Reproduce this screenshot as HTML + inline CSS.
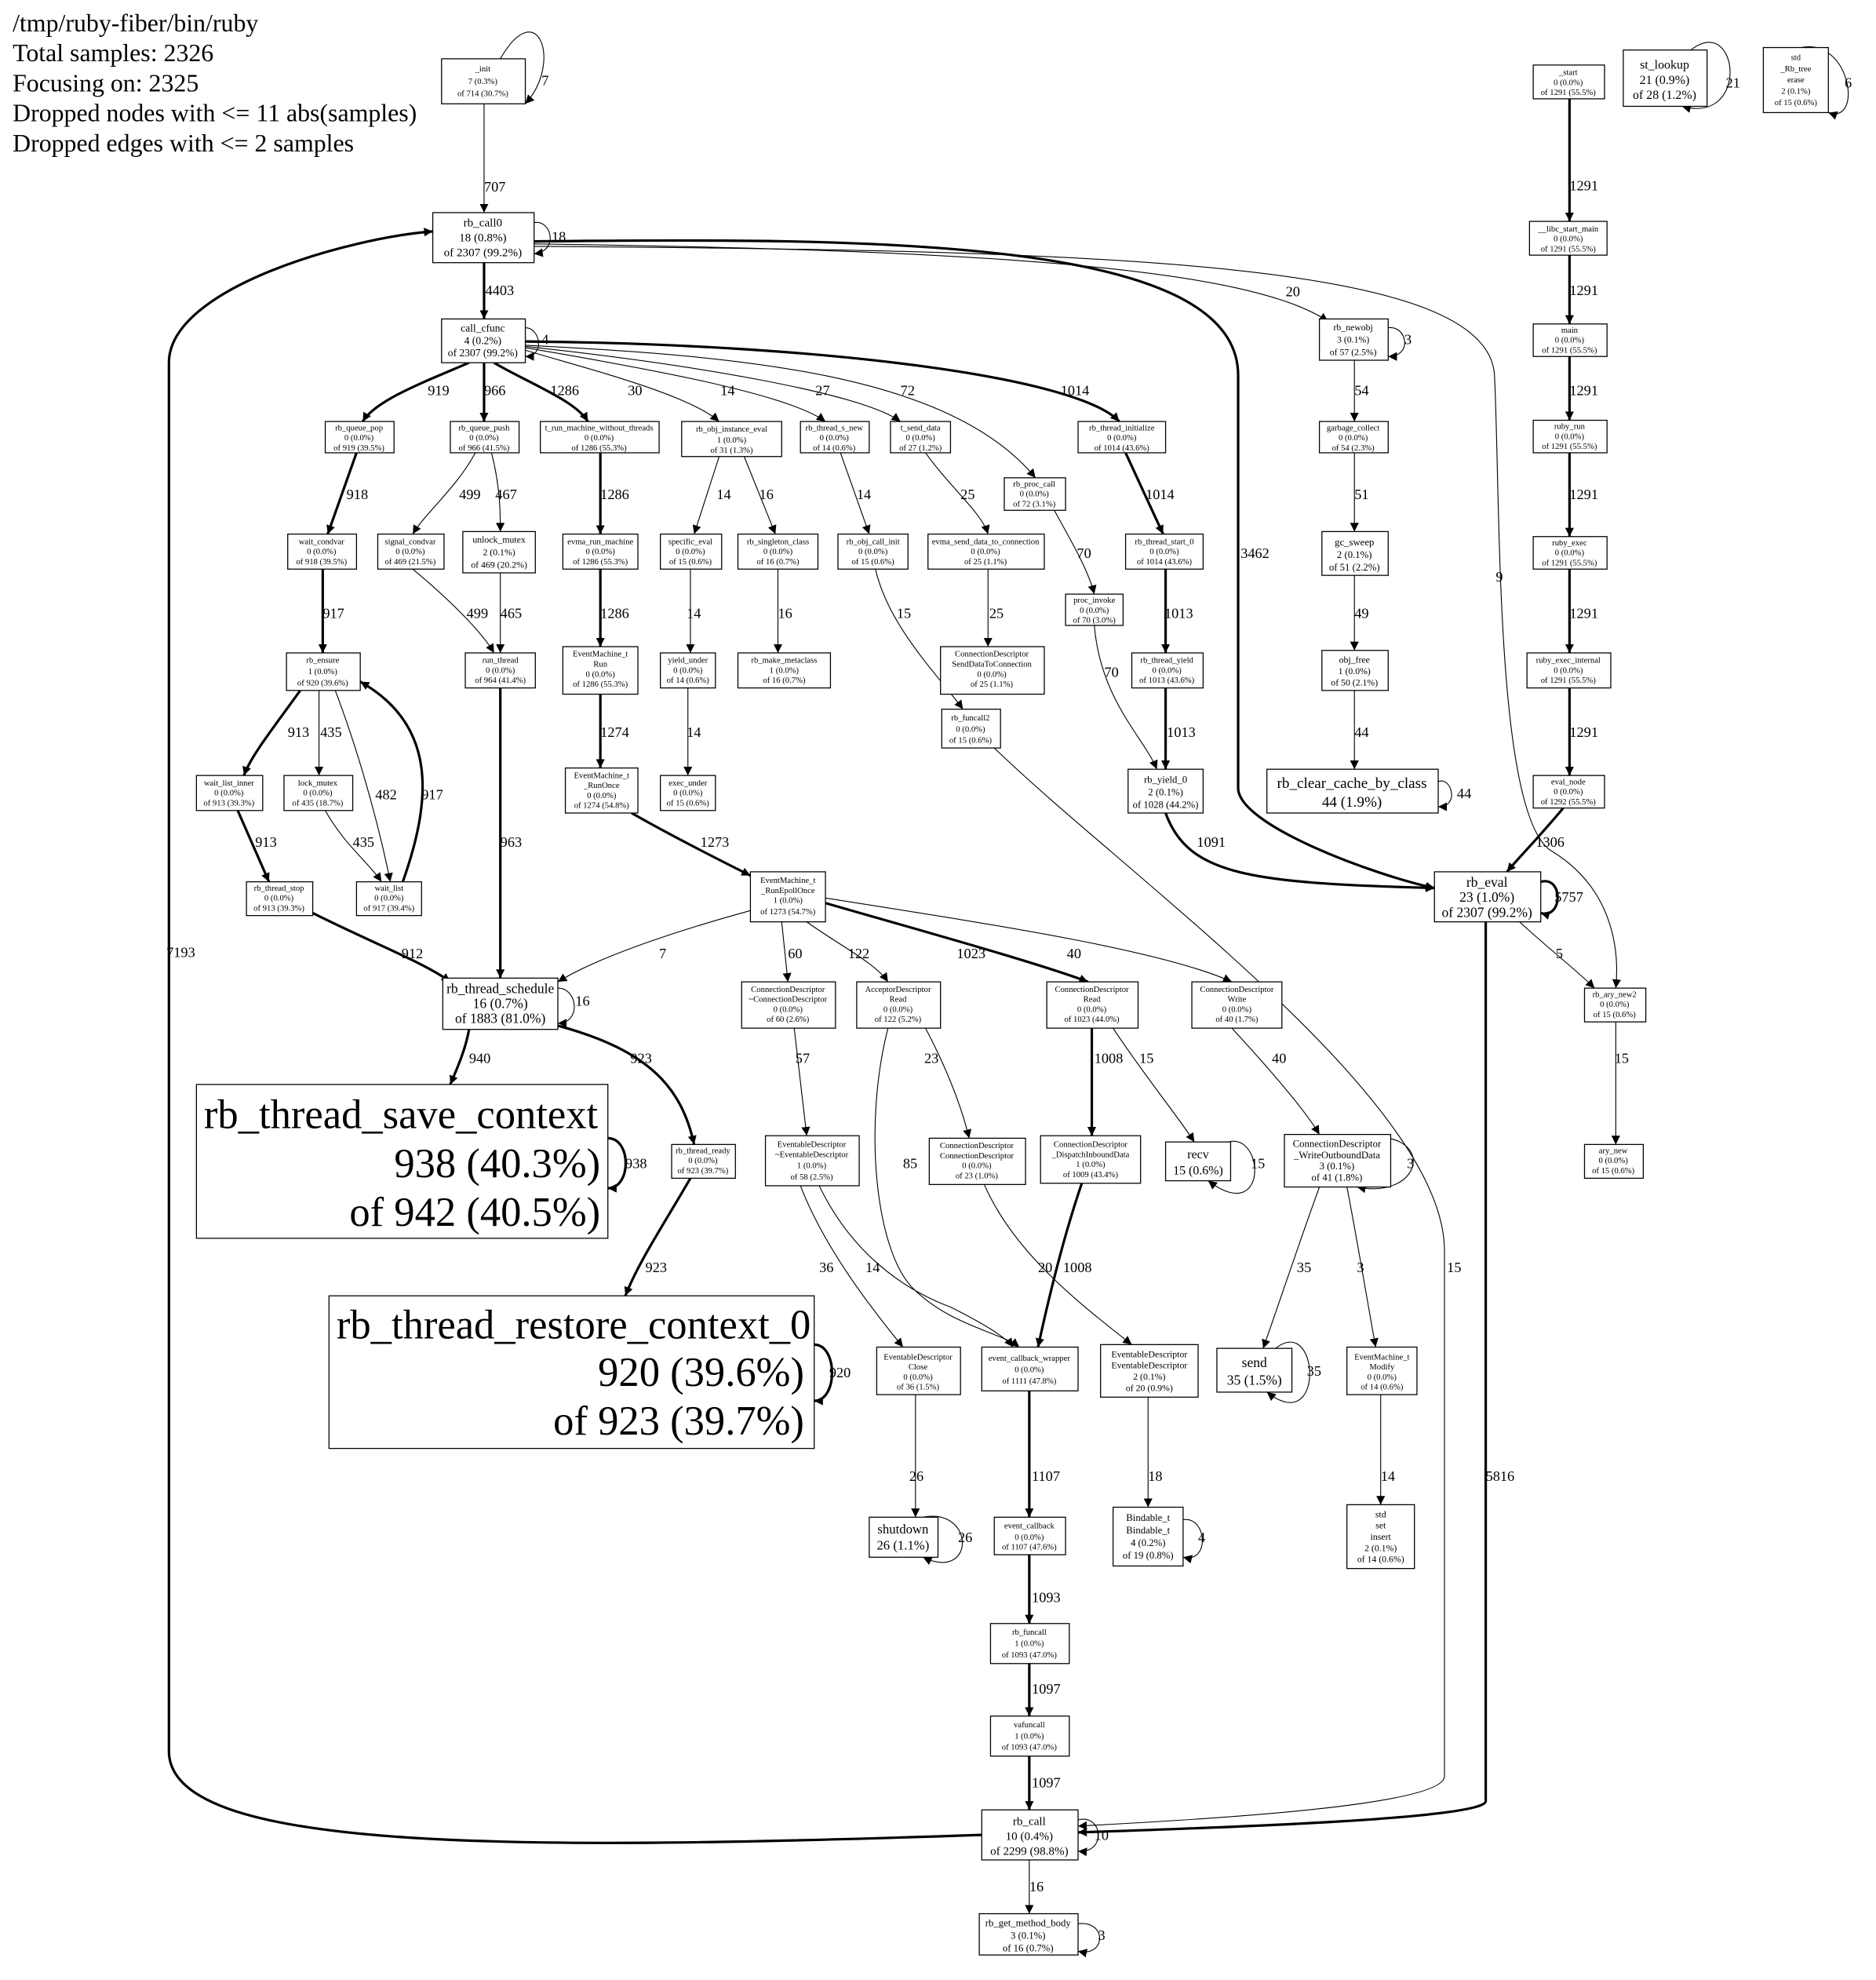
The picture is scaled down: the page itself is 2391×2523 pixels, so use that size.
<!DOCTYPE html>
<html><head><meta charset="utf-8"><style>
html,body{margin:0;padding:0;background:#fff}
svg{display:block}
text{font-family:"Liberation Serif",serif;fill:#000}
.n rect{fill:#fff;stroke:#000;stroke-width:0.8}
.s{font-size:6.7px;text-anchor:middle}
.m{font-size:10px;text-anchor:middle}
.l{font-size:11.5px}
.e{fill:none;stroke:#000;stroke-width:0.7}
.t{fill:none;stroke:#000;stroke-width:2}
</style></head><body>
<svg width="2391" height="2523" viewBox="0 0 1500 1583" xmlns="http://www.w3.org/2000/svg">
<defs>
<marker id="a" viewBox="0 0 10 10" refX="10" refY="5" markerWidth="7" markerHeight="7" markerUnits="userSpaceOnUse" orient="auto"><path d="M0,0L10,5L0,10z" fill="#000"/></marker>
</defs>
<rect width="1500" height="1583" fill="#fff"/>
<g style="font-size:20px">
<text x="10" y="25">/tmp/ruby-fiber/bin/ruby</text>
<text x="10" y="49">Total samples: 2326</text>
<text x="10" y="73">Focusing on: 2325</text>
<text x="10" y="97">Dropped nodes with &lt;= 11 abs(samples)</text>
<text x="10" y="121">Dropped edges with &lt;= 2 samples</text>
</g>

<!-- EDGES -->
<g marker-end="url(#a)">
<path class="e" d="M387,83V170"/>
<path class="t" d="M387,210V255"/>
<path class="t" d="M427,193C700,190 990,190 990,300V630C990,660 1100,700 1147,710"/>
<path class="e" d="M427,195C800,200 1000,215 1062,257"/>
<path class="e" d="M427,197C900,200 1190,210 1195,300C1200,400 1195,650 1240,680C1290,710 1295,760 1292,790"/>
<path class="t" d="M785,1467C400,1480 135,1480 135,1400V290C135,230 280,190 346,185"/>
<path class="t" d="M375,290C340,305 300,320 290,337"/>
<path class="t" d="M387,290V337"/>
<path class="t" d="M395,290C420,305 460,320 470,337"/>
<path class="e" d="M420,280C470,295 550,315 575,337"/>
<path class="e" d="M420,278C520,295 630,315 660,337"/>
<path class="e" d="M420,277C560,292 690,315 720,337"/>
<path class="e" d="M420,276C600,285 760,300 828,382"/>
<path class="t" d="M420,273C650,275 860,300 895,337"/>
<path class="t" d="M285,362L262,427"/>
<path class="e" d="M380,362C365,390 340,410 330,427"/>
<path class="e" d="M393,362C400,390 400,410 400,425"/>
<path class="t" d="M480,362V427"/>
<path class="e" d="M575,365L555,427"/>
<path class="e" d="M595,365L620,427"/>
<path class="e" d="M672,362L695,427"/>
<path class="e" d="M740,362C760,390 785,410 790,427"/>
<path class="e" d="M843,408C855,430 870,455 875,475"/>
<path class="t" d="M900,362L930,427"/>
<path class="e" d="M1083,288V337"/>
<path class="e" d="M1083,362V425"/>
<path class="e" d="M1083,460V520"/>
<path class="e" d="M1083,552V615"/>
<path class="t" d="M1255,79V177"/>
<path class="t" d="M1255,204V259"/>
<path class="t" d="M1255,285V336"/>
<path class="t" d="M1255,362V429"/>
<path class="t" d="M1255,455V522"/>
<path class="t" d="M1255,550V620"/>
<path class="t" d="M1250,646C1230,670 1215,685 1205,697"/>
<path class="t" d="M258,455V522"/>
<path class="e" d="M330,455C360,480 385,505 395,522"/>
<path class="e" d="M400,458V522"/>
<path class="t" d="M480,455V517"/>
<path class="e" d="M552,455V522"/>
<path class="e" d="M622,455V522"/>
<path class="e" d="M700,455C710,500 750,540 770,567"/>
<path class="e" d="M790,455V517"/>
<path class="e" d="M875,500C880,560 915,590 925,615"/>
<path class="t" d="M932,455V522"/>
<path class="t" d="M932,550V615"/>
<path class="t" d="M932,650C950,700 1000,706 1147,710"/>
<path class="e" d="M1215,737C1240,760 1260,775 1275,790"/>
<path class="t" d="M1188,737V1440C1188,1455 950,1462 862,1465"/>
<path class="e" d="M795,598C900,700 1155,880 1155,1000V1420C1155,1445 950,1455 862,1460"/>
<path class="t" d="M240,552C220,580 200,605 195,620"/>
<path class="e" d="M255,552V620"/>
<path class="e" d="M268,552C290,610 305,670 312,705"/>
<path class="t" d="M322,705C345,640 350,580 288,545"/>
<path class="t" d="M190,648L215,705"/>
<path class="e" d="M260,648C275,675 295,690 305,705"/>
<path class="t" d="M400,550V782"/>
<path class="t" d="M480,555V614"/>
<path class="e" d="M550,550V620"/>
<path class="t" d="M505,650C540,670 580,690 600,700"/>
<path class="t" d="M250,730C300,755 340,770 360,785"/>
<path class="e" d="M600,728C520,750 470,770 446,785"/>
<path class="e" d="M625,737L630,785"/>
<path class="e" d="M645,737C670,755 700,770 710,785"/>
<path class="t" d="M660,722C740,745 830,770 870,785"/>
<path class="e" d="M660,718C800,740 930,760 985,785"/>
<path class="t" d="M375,823C372,840 365,855 360,867"/>
<path class="t" d="M446,820C520,840 545,870 555,915"/>
<path class="t" d="M552,942C530,980 510,1010 500,1036"/>
<path class="e" d="M635,822C638,850 642,880 645,908"/>
<path class="e" d="M710,822C690,900 700,1000 730,1030C760,1060 800,1065 815,1077"/>
<path class="e" d="M740,822C760,860 770,890 775,910"/>
<path class="t" d="M873,822V908"/>
<path class="e" d="M890,822C915,860 940,890 955,913"/>
<path class="e" d="M985,822C1020,860 1045,890 1055,907"/>
<path class="e" d="M1292,817V915"/>
<path class="e" d="M640,948C660,1000 700,1050 722,1077"/>
<path class="e" d="M655,948C680,1000 720,1030 760,1045C790,1060 805,1070 810,1077"/>
<path class="e" d="M787,947C810,1000 860,1040 905,1075"/>
<path class="t" d="M865,946C850,990 838,1040 830,1077"/>
<path class="e" d="M1055,949C1040,990 1020,1050 1010,1078"/>
<path class="e" d="M1077,949C1085,990 1095,1050 1100,1077"/>
<path class="e" d="M732,1115V1213"/>
<path class="t" d="M823,1112V1213"/>
<path class="e" d="M918,1117V1205"/>
<path class="e" d="M1104,1115V1203"/>
<path class="t" d="M823,1243V1298"/>
<path class="t" d="M823,1330V1372"/>
<path class="t" d="M823,1404V1447"/>
<path class="e" d="M823,1487V1530"/>
<!-- self loops -->
<path class="e" d="M400,47C430,-5 450,50 420,83" />
<path class="e" d="M427,178C440,175 448,200 427,203"/>
<path class="e" d="M420,262C432,262 436,285 420,285"/>
<path class="e" d="M1110,262C1125,260 1130,285 1110,285"/>
<path class="e" d="M1352,40C1390,10 1400,100 1345,85"/>
<path class="e" d="M1440,38C1480,30 1490,100 1462,90"/>
<path class="e" d="M1150,625C1160,620 1168,645 1150,645"/>
<path class="t" d="M1232,705C1250,700 1250,735 1232,730"/>
<path class="e" d="M446,790C462,790 465,818 446,818"/>
<path class="t" d="M486,910C505,910 505,950 486,950"/>
<path class="t" d="M651,1075C670,1075 670,1120 651,1120"/>
<path class="e" d="M970,920C1010,885 1020,985 966,944"/>
<path class="e" d="M1085,910C1150,900 1140,960 1085,949"/>
<path class="e" d="M1020,1078C1055,1050 1060,1150 1013,1113"/>
<path class="e" d="M738,1213C780,1205 780,1265 738,1245"/>
<path class="e" d="M946,1215C965,1212 968,1250 946,1245"/>
<path class="e" d="M862,1455C882,1450 885,1482 862,1480"/>
<path class="e" d="M862,1538C885,1535 885,1565 862,1560"/>
</g>

<!-- EDGE LABELS -->
<g class="l">
<text x="387" y="153">707</text><text x="388" y="236">4403</text><text x="992" y="446">3462</text>
<text x="1028" y="237">20</text><text x="1196" y="465">9</text><text x="133" y="765">7193</text>
<text x="342" y="316">919</text><text x="387" y="316">966</text><text x="440" y="316">1286</text>
<text x="502" y="316">30</text><text x="576" y="316">14</text><text x="652" y="316">27</text>
<text x="720" y="316">72</text><text x="848" y="316">1014</text><text x="277" y="399">918</text>
<text x="367" y="399">499</text><text x="396" y="399">467</text><text x="480" y="399">1286</text>
<text x="573" y="399">14</text><text x="607" y="399">16</text><text x="685" y="399">14</text>
<text x="768" y="399">25</text><text x="861" y="446">70</text><text x="916" y="399">1014</text>
<text x="1083" y="316">54</text><text x="1083" y="399">51</text><text x="1083" y="494">49</text><text x="1083" y="589">44</text>
<text x="1255" y="152">1291</text><text x="1255" y="236">1291</text><text x="1255" y="316">1291</text>
<text x="1255" y="399">1291</text><text x="1255" y="494">1291</text><text x="1255" y="589">1291</text>
<text x="1228" y="677">1306</text><text x="258" y="494">917</text><text x="373" y="494">499</text>
<text x="400" y="494">465</text><text x="480" y="494">1286</text><text x="549" y="494">14</text>
<text x="622" y="494">16</text><text x="717" y="494">15</text><text x="791" y="494">25</text>
<text x="883" y="541">70</text><text x="931" y="494">1013</text><text x="933" y="589">1013</text>
<text x="957" y="677">1091</text><text x="1244" y="766">5</text><text x="1188" y="1184">5816</text>
<text x="1157" y="1017">15</text><text x="230" y="589">913</text><text x="256" y="589">435</text>
<text x="300" y="639">482</text><text x="337" y="639">917</text><text x="204" y="677">913</text>
<text x="282" y="677">435</text><text x="400" y="677">963</text><text x="480" y="589">1274</text>
<text x="549" y="589">14</text><text x="560" y="677">1273</text><text x="321" y="766">912</text>
<text x="527" y="766">7</text><text x="630" y="766">60</text><text x="678" y="766">122</text>
<text x="765" y="766">1023</text><text x="853" y="766">40</text><text x="460" y="804">16</text>
<text x="375" y="850">940</text><text x="504" y="850">923</text><text x="500" y="934">938</text>
<text x="516" y="1017">923</text><text x="663" y="1101">920</text><text x="636" y="850">57</text>
<text x="722" y="934">85</text><text x="739" y="850">23</text><text x="875" y="850">1008</text>
<text x="911" y="850">15</text><text x="1017" y="850">40</text><text x="1000" y="934">15</text>
<text x="1125" y="934">3</text><text x="1291" y="850">15</text><text x="655" y="1017">36</text>
<text x="692" y="1017">14</text><text x="830" y="1017">20</text><text x="850" y="1017">1008</text>
<text x="1037" y="1017">35</text><text x="1085" y="1017">3</text><text x="1045" y="1100">35</text>
<text x="727" y="1184">26</text><text x="825" y="1184">1107</text><text x="918" y="1184">18</text>
<text x="1104" y="1184">14</text><text x="766" y="1233">26</text><text x="958" y="1233">4</text>
<text x="825" y="1281">1093</text><text x="825" y="1354">1097</text><text x="825" y="1429">1097</text>
<text x="875" y="1471">10</text><text x="823" y="1512">16</text><text x="878" y="1551">3</text>
<text x="433" y="68">7</text><text x="441" y="193">18</text><text x="433" y="275">4</text>
<text x="1123" y="275">3</text><text x="1380" y="70">21</text><text x="1475" y="70">6</text>
<text x="1165" y="638">44</text><text x="1243" y="721">5757</text>
</g>

<!-- NODES -->
<g class="n">
<rect x="353" y="47" width="67" height="36"/><text class="s"><tspan x="386" y="57">_init</tspan><tspan x="386" y="67">7 (0.3%)</tspan><tspan x="386" y="77">of 714 (30.7%)</tspan></text>
<rect x="346" y="170" width="81" height="40"/><text class="m" style="font-size:9.5px"><tspan x="386" y="181">rb_call0</tspan><tspan x="386" y="193">18 (0.8%)</tspan><tspan x="386" y="205">of 2307 (99.2%)</tspan></text>
<rect x="353" y="255" width="67" height="35"/><text class="m" style="font-size:8.5px"><tspan x="386" y="265">call_cfunc</tspan><tspan x="386" y="275">4 (0.2%)</tspan><tspan x="386" y="285">of 2307 (99.2%)</tspan></text>
<rect x="260" y="337" width="55" height="25"/><text class="s"><tspan x="287" y="344">rb_queue_pop</tspan><tspan x="287" y="352">0 (0.0%)</tspan><tspan x="287" y="360">of 919 (39.5%)</tspan></text>
<rect x="360" y="337" width="55" height="25"/><text class="s"><tspan x="387" y="344">rb_queue_push</tspan><tspan x="387" y="352">0 (0.0%)</tspan><tspan x="387" y="360">of 966 (41.5%)</tspan></text>
<rect x="432" y="337" width="95" height="25"/><text class="s"><tspan x="479" y="344">t_run_machine_without_threads</tspan><tspan x="479" y="352">0 (0.0%)</tspan><tspan x="479" y="360">of 1286 (55.3%)</tspan></text>
<rect x="545" y="337" width="80" height="28"/><text class="s"><tspan x="585" y="345">rb_obj_instance_eval</tspan><tspan x="585" y="354">1 (0.0%)</tspan><tspan x="585" y="362">of 31 (1.3%)</tspan></text>
<rect x="640" y="337" width="55" height="25"/><text class="s"><tspan x="667" y="344">rb_thread_s_new</tspan><tspan x="667" y="352">0 (0.0%)</tspan><tspan x="667" y="360">of 14 (0.6%)</tspan></text>
<rect x="712" y="337" width="48" height="25"/><text class="s"><tspan x="736" y="344">t_send_data</tspan><tspan x="736" y="352">0 (0.0%)</tspan><tspan x="736" y="360">of 27 (1.2%)</tspan></text>
<rect x="803" y="382" width="49" height="26"/><text class="s"><tspan x="827" y="389">rb_proc_call</tspan><tspan x="827" y="397">0 (0.0%)</tspan><tspan x="827" y="405">of 72 (3.1%)</tspan></text>
<rect x="862" y="337" width="70" height="25"/><text class="s"><tspan x="897" y="344">rb_thread_initialize</tspan><tspan x="897" y="352">0 (0.0%)</tspan><tspan x="897" y="360">of 1014 (43.6%)</tspan></text>
<rect x="1055" y="255" width="55" height="33"/><text class="s" style="font-size:7.4px"><tspan x="1082" y="264">rb_newobj</tspan><tspan x="1082" y="274">3 (0.1%)</tspan><tspan x="1082" y="284">of 57 (2.5%)</tspan></text>
<rect x="1226" y="52" width="57" height="27"/><text class="s"><tspan x="1254" y="60">_start</tspan><tspan x="1254" y="68">0 (0.0%)</tspan><tspan x="1254" y="76">of 1291 (55.5%)</tspan></text>
<rect x="1298" y="40" width="67" height="45"/><text class="m"><tspan x="1331" y="55">st_lookup</tspan><tspan x="1331" y="67">21 (0.9%)</tspan><tspan x="1331" y="79">of 28 (1.2%)</tspan></text>
<rect x="1410" y="38" width="52" height="52"/><text class="s"><tspan x="1436" y="48">std</tspan><tspan x="1436" y="57">_Rb_tree</tspan><tspan x="1436" y="66">erase</tspan><tspan x="1436" y="75">2 (0.1%)</tspan><tspan x="1436" y="84">of 15 (0.6%)</tspan></text>
<rect x="1223" y="177" width="62" height="27"/><text class="s"><tspan x="1254" y="185">__libc_start_main</tspan><tspan x="1254" y="193">0 (0.0%)</tspan><tspan x="1254" y="201">of 1291 (55.5%)</tspan></text>
<rect x="1226" y="259" width="59" height="26"/><text class="s"><tspan x="1255" y="266">main</tspan><tspan x="1255" y="274">0 (0.0%)</tspan><tspan x="1255" y="282">of 1291 (55.5%)</tspan></text>
<rect x="1226" y="336" width="59" height="26"/><text class="s"><tspan x="1255" y="343">ruby_run</tspan><tspan x="1255" y="351">0 (0.0%)</tspan><tspan x="1255" y="359">of 1291 (55.5%)</tspan></text>
<rect x="1226" y="429" width="59" height="26"/><text class="s"><tspan x="1255" y="436">ruby_exec</tspan><tspan x="1255" y="444">0 (0.0%)</tspan><tspan x="1255" y="452">of 1291 (55.5%)</tspan></text>
<rect x="1221" y="522" width="67" height="28"/><text class="s"><tspan x="1254" y="530">ruby_exec_internal</tspan><tspan x="1254" y="538">0 (0.0%)</tspan><tspan x="1254" y="546">of 1291 (55.5%)</tspan></text>
<rect x="1226" y="620" width="57" height="26"/><text class="s"><tspan x="1254" y="627">eval_node</tspan><tspan x="1254" y="635">0 (0.0%)</tspan><tspan x="1254" y="643">of 1292 (55.5%)</tspan></text>
<rect x="1055" y="337" width="55" height="25"/><text class="s"><tspan x="1082" y="344">garbage_collect</tspan><tspan x="1082" y="352">0 (0.0%)</tspan><tspan x="1082" y="360">of 54 (2.3%)</tspan></text>
<rect x="1057" y="425" width="53" height="35"/><text class="s" style="font-size:8px"><tspan x="1083" y="436">gc_sweep</tspan><tspan x="1083" y="446">2 (0.1%)</tspan><tspan x="1083" y="456">of 51 (2.2%)</tspan></text>
<rect x="1057" y="520" width="53" height="32"/><text class="s" style="font-size:7.4px"><tspan x="1083" y="530">obj_free</tspan><tspan x="1083" y="539">1 (0.0%)</tspan><tspan x="1083" y="548">of 50 (2.1%)</tspan></text>
<rect x="1013" y="615" width="137" height="35"/><text class="m" style="font-size:12px"><tspan x="1081" y="630">rb_clear_cache_by_class</tspan><tspan x="1081" y="645">44 (1.9%)</tspan></text>
<rect x="230" y="427" width="55" height="28"/><text class="s"><tspan x="257" y="435">wait_condvar</tspan><tspan x="257" y="443">0 (0.0%)</tspan><tspan x="257" y="451">of 918 (39.5%)</tspan></text>
<rect x="302" y="427" width="53" height="28"/><text class="s"><tspan x="328" y="435">signal_condvar</tspan><tspan x="328" y="443">0 (0.0%)</tspan><tspan x="328" y="451">of 469 (21.5%)</tspan></text>
<rect x="370" y="425" width="58" height="33"/><text class="s" style="font-size:7.4px"><tspan x="399" y="434">unlock_mutex</tspan><tspan x="399" y="444">2 (0.1%)</tspan><tspan x="399" y="454">of 469 (20.2%)</tspan></text>
<rect x="450" y="427" width="60" height="28"/><text class="s"><tspan x="480" y="435">evma_run_machine</tspan><tspan x="480" y="443">0 (0.0%)</tspan><tspan x="480" y="451">of 1286 (55.3%)</tspan></text>
<rect x="528" y="427" width="49" height="28"/><text class="s"><tspan x="552" y="435">specific_eval</tspan><tspan x="552" y="443">0 (0.0%)</tspan><tspan x="552" y="451">of 15 (0.6%)</tspan></text>
<rect x="590" y="427" width="64" height="28"/><text class="s"><tspan x="622" y="435">rb_singleton_class</tspan><tspan x="622" y="443">0 (0.0%)</tspan><tspan x="622" y="451">of 16 (0.7%)</tspan></text>
<rect x="670" y="427" width="56" height="28"/><text class="s"><tspan x="698" y="435">rb_obj_call_init</tspan><tspan x="698" y="443">0 (0.0%)</tspan><tspan x="698" y="451">of 15 (0.6%)</tspan></text>
<rect x="742" y="427" width="93" height="28"/><text class="s"><tspan x="788" y="435">evma_send_data_to_connection</tspan><tspan x="788" y="443">0 (0.0%)</tspan><tspan x="788" y="451">of 25 (1.1%)</tspan></text>
<rect x="852" y="475" width="46" height="25"/><text class="s"><tspan x="875" y="482">proc_invoke</tspan><tspan x="875" y="490">0 (0.0%)</tspan><tspan x="875" y="498">of 70 (3.0%)</tspan></text>
<rect x="900" y="427" width="62" height="28"/><text class="s"><tspan x="931" y="435">rb_thread_start_0</tspan><tspan x="931" y="443">0 (0.0%)</tspan><tspan x="931" y="451">of 1014 (43.6%)</tspan></text>
<rect x="229" y="522" width="59" height="30"/><text class="s"><tspan x="258" y="530">rb_ensure</tspan><tspan x="258" y="539">1 (0.0%)</tspan><tspan x="258" y="548">of 920 (39.6%)</tspan></text>
<rect x="372" y="522" width="56" height="28"/><text class="s"><tspan x="400" y="530">run_thread</tspan><tspan x="400" y="538">0 (0.0%)</tspan><tspan x="400" y="546">of 964 (41.4%)</tspan></text>
<rect x="450" y="517" width="60" height="38"/><text class="s"><tspan x="480" y="525">EventMachine_t</tspan><tspan x="480" y="533">Run</tspan><tspan x="480" y="541">0 (0.0%)</tspan><tspan x="480" y="549">of 1286 (55.3%)</tspan></text>
<rect x="528" y="522" width="44" height="28"/><text class="s"><tspan x="550" y="530">yield_under</tspan><tspan x="550" y="538">0 (0.0%)</tspan><tspan x="550" y="546">of 14 (0.6%)</tspan></text>
<rect x="590" y="522" width="74" height="28"/><text class="s"><tspan x="627" y="530">rb_make_metaclass</tspan><tspan x="627" y="538">1 (0.0%)</tspan><tspan x="627" y="546">of 16 (0.7%)</tspan></text>
<rect x="752" y="517" width="83" height="38"/><text class="s"><tspan x="793" y="525">ConnectionDescriptor</tspan><tspan x="793" y="533">SendDataToConnection</tspan><tspan x="793" y="541">0 (0.0%)</tspan><tspan x="793" y="549">of 25 (1.1%)</tspan></text>
<rect x="753" y="567" width="47" height="31"/><text class="s"><tspan x="776" y="576">rb_funcall2</tspan><tspan x="776" y="585">0 (0.0%)</tspan><tspan x="776" y="594">of 15 (0.6%)</tspan></text>
<rect x="905" y="522" width="57" height="28"/><text class="s"><tspan x="933" y="530">rb_thread_yield</tspan><tspan x="933" y="538">0 (0.0%)</tspan><tspan x="933" y="546">of 1013 (43.6%)</tspan></text>
<rect x="157" y="620" width="53" height="28"/><text class="s"><tspan x="183" y="628">wait_list_inner</tspan><tspan x="183" y="636">0 (0.0%)</tspan><tspan x="183" y="644">of 913 (39.3%)</tspan></text>
<rect x="227" y="620" width="55" height="28"/><text class="s"><tspan x="254" y="628">lock_mutex</tspan><tspan x="254" y="636">0 (0.0%)</tspan><tspan x="254" y="644">of 435 (18.7%)</tspan></text>
<rect x="528" y="620" width="44" height="28"/><text class="s"><tspan x="550" y="628">exec_under</tspan><tspan x="550" y="636">0 (0.0%)</tspan><tspan x="550" y="644">of 15 (0.6%)</tspan></text>
<rect x="452" y="614" width="58" height="36"/><text class="s"><tspan x="481" y="622">EventMachine_t</tspan><tspan x="481" y="630">_RunOnce</tspan><tspan x="481" y="638">0 (0.0%)</tspan><tspan x="481" y="646">of 1274 (54.8%)</tspan></text>
<rect x="902" y="615" width="60" height="35"/><text class="s" style="font-size:8px"><tspan x="932" y="626">rb_yield_0</tspan><tspan x="932" y="636">2 (0.1%)</tspan><tspan x="932" y="646">of 1028 (44.2%)</tspan></text>
<rect x="197" y="705" width="53" height="27"/><text class="s"><tspan x="223" y="712">rb_thread_stop</tspan><tspan x="223" y="720">0 (0.0%)</tspan><tspan x="223" y="728">of 913 (39.3%)</tspan></text>
<rect x="285" y="705" width="52" height="27"/><text class="s"><tspan x="311" y="712">wait_list</tspan><tspan x="311" y="720">0 (0.0%)</tspan><tspan x="311" y="728">of 917 (39.4%)</tspan></text>
<rect x="600" y="697" width="60" height="40"/><text class="s"><tspan x="630" y="706">EventMachine_t</tspan><tspan x="630" y="714">_RunEpollOnce</tspan><tspan x="630" y="722">1 (0.0%)</tspan><tspan x="630" y="731">of 1273 (54.7%)</tspan></text>
<rect x="1147" y="697" width="85" height="40"/><text class="m" style="font-size:11px"><tspan x="1189" y="709">rb_eval</tspan><tspan x="1189" y="721">23 (1.0%)</tspan><tspan x="1189" y="733">of 2307 (99.2%)</tspan></text>
<rect x="354" y="782" width="92" height="41"/><text class="m" style="font-size:11px"><tspan x="400" y="794">rb_thread_schedule</tspan><tspan x="400" y="806">16 (0.7%)</tspan><tspan x="400" y="818">of 1883 (81.0%)</tspan></text>
<rect x="593" y="785" width="75" height="37"/><text class="s"><tspan x="630" y="793">ConnectionDescriptor</tspan><tspan x="630" y="801">~ConnectionDescriptor</tspan><tspan x="630" y="809">0 (0.0%)</tspan><tspan x="630" y="817">of 60 (2.6%)</tspan></text>
<rect x="685" y="785" width="67" height="37"/><text class="s"><tspan x="718" y="793">AcceptorDescriptor</tspan><tspan x="718" y="801">Read</tspan><tspan x="718" y="809">0 (0.0%)</tspan><tspan x="718" y="817">of 122 (5.2%)</tspan></text>
<rect x="837" y="785" width="73" height="37"/><text class="s"><tspan x="873" y="793">ConnectionDescriptor</tspan><tspan x="873" y="801">Read</tspan><tspan x="873" y="809">0 (0.0%)</tspan><tspan x="873" y="817">of 1023 (44.0%)</tspan></text>
<rect x="953" y="785" width="72" height="37"/><text class="s"><tspan x="989" y="793">ConnectionDescriptor</tspan><tspan x="989" y="801">Write</tspan><tspan x="989" y="809">0 (0.0%)</tspan><tspan x="989" y="817">of 40 (1.7%)</tspan></text>
<rect x="1267" y="790" width="49" height="27"/><text class="s"><tspan x="1291" y="797">rb_ary_new2</tspan><tspan x="1291" y="805">0 (0.0%)</tspan><tspan x="1291" y="813">of 15 (0.6%)</tspan></text>
<rect x="157" y="867" width="329" height="123"/><text style="font-size:33px"><tspan x="163" y="902">rb_thread_save_context</tspan><tspan x="480" y="941" text-anchor="end">938 (40.3%)</tspan><tspan x="480" y="980" text-anchor="end">of 942 (40.5%)</tspan></text>
<rect x="537" y="915" width="51" height="27"/><text class="s"><tspan x="562" y="922">rb_thread_ready</tspan><tspan x="562" y="930">0 (0.0%)</tspan><tspan x="562" y="938">of 923 (39.7%)</tspan></text>
<rect x="612" y="908" width="75" height="40"/><text class="s"><tspan x="649" y="917">EventableDescriptor</tspan><tspan x="649" y="925">~EventableDescriptor</tspan><tspan x="649" y="934">1 (0.0%)</tspan><tspan x="649" y="943">of 58 (2.5%)</tspan></text>
<rect x="743" y="910" width="77" height="37"/><text class="s"><tspan x="781" y="918">ConnectionDescriptor</tspan><tspan x="781" y="926">ConnectionDescriptor</tspan><tspan x="781" y="934">0 (0.0%)</tspan><tspan x="781" y="942">of 23 (1.0%)</tspan></text>
<rect x="832" y="908" width="80" height="38"/><text class="s"><tspan x="872" y="917">ConnectionDescriptor</tspan><tspan x="872" y="925">_DispatchInboundData</tspan><tspan x="872" y="933">1 (0.0%)</tspan><tspan x="872" y="941">of 1009 (43.4%)</tspan></text>
<rect x="932" y="913" width="52" height="31"/><text class="m"><tspan x="958" y="926">recv</tspan><tspan x="958" y="939">15 (0.6%)</tspan></text>
<rect x="1027" y="907" width="85" height="42"/><text class="s" style="font-size:8px"><tspan x="1069" y="917">ConnectionDescriptor</tspan><tspan x="1069" y="926">_WriteOutboundData</tspan><tspan x="1069" y="935">3 (0.1%)</tspan><tspan x="1069" y="944">of 41 (1.8%)</tspan></text>
<rect x="1267" y="915" width="47" height="27"/><text class="s"><tspan x="1290" y="922">ary_new</tspan><tspan x="1290" y="930">0 (0.0%)</tspan><tspan x="1290" y="938">of 15 (0.6%)</tspan></text>
<rect x="263" y="1036" width="388" height="122"/><text style="font-size:33px"><tspan x="269" y="1070">rb_thread_restore_context_0</tspan><tspan x="643" y="1108" text-anchor="end">920 (39.6%)</tspan><tspan x="643" y="1147" text-anchor="end">of 923 (39.7%)</tspan></text>
<rect x="701" y="1077" width="67" height="38"/><text class="s"><tspan x="734" y="1087">EventableDescriptor</tspan><tspan x="734" y="1095">Close</tspan><tspan x="734" y="1103">0 (0.0%)</tspan><tspan x="734" y="1111">of 36 (1.5%)</tspan></text>
<rect x="785" y="1077" width="77" height="35"/><text class="s"><tspan x="823" y="1088">event_callback_wrapper</tspan><tspan x="823" y="1097">0 (0.0%)</tspan><tspan x="823" y="1106">of 1111 (47.8%)</tspan></text>
<rect x="880" y="1075" width="78" height="42"/><text class="s" style="font-size:7.4px"><tspan x="919" y="1085">EventableDescriptor</tspan><tspan x="919" y="1094">EventableDescriptor</tspan><tspan x="919" y="1103">2 (0.1%)</tspan><tspan x="919" y="1112">of 20 (0.9%)</tspan></text>
<rect x="973" y="1078" width="60" height="35"/><text class="m" style="font-size:11px"><tspan x="1003" y="1093">send</tspan><tspan x="1003" y="1107">35 (1.5%)</tspan></text>
<rect x="1077" y="1077" width="56" height="38"/><text class="s"><tspan x="1105" y="1087">EventMachine_t</tspan><tspan x="1105" y="1095">Modify</tspan><tspan x="1105" y="1103">0 (0.0%)</tspan><tspan x="1105" y="1111">of 14 (0.6%)</tspan></text>
<rect x="695" y="1213" width="55" height="32"/><text class="m" style="font-size:10.5px"><tspan x="722" y="1226">shutdown</tspan><tspan x="722" y="1239">26 (1.1%)</tspan></text>
<rect x="795" y="1213" width="57" height="30"/><text class="s"><tspan x="823" y="1222">event_callback</tspan><tspan x="823" y="1231">0 (0.0%)</tspan><tspan x="823" y="1239">of 1107 (47.6%)</tspan></text>
<rect x="890" y="1205" width="56" height="47"/><text class="s" style="font-size:8px"><tspan x="918" y="1216">Bindable_t</tspan><tspan x="918" y="1226">Bindable_t</tspan><tspan x="918" y="1236">4 (0.2%)</tspan><tspan x="918" y="1246">of 19 (0.8%)</tspan></text>
<rect x="1077" y="1203" width="54" height="51"/><text class="s" style="font-size:7.4px"><tspan x="1104" y="1213">std</tspan><tspan x="1104" y="1222">set</tspan><tspan x="1104" y="1231">insert</tspan><tspan x="1104" y="1240">2 (0.1%)</tspan><tspan x="1104" y="1249">of 14 (0.6%)</tspan></text>
<rect x="792" y="1298" width="63" height="32"/><text class="s"><tspan x="823" y="1307">rb_funcall</tspan><tspan x="823" y="1316">1 (0.0%)</tspan><tspan x="823" y="1325">of 1093 (47.0%)</tspan></text>
<rect x="792" y="1372" width="63" height="32"/><text class="s"><tspan x="823" y="1381">vafuncall</tspan><tspan x="823" y="1390">1 (0.0%)</tspan><tspan x="823" y="1399">of 1093 (47.0%)</tspan></text>
<rect x="785" y="1447" width="77" height="40"/><text class="m" style="font-size:9.5px"><tspan x="823" y="1459">rb_call</tspan><tspan x="823" y="1471">10 (0.4%)</tspan><tspan x="823" y="1483">of 2299 (98.8%)</tspan></text>
<rect x="783" y="1530" width="79" height="33"/><text class="s" style="font-size:8px"><tspan x="822" y="1540">rb_get_method_body</tspan><tspan x="822" y="1550">3 (0.1%)</tspan><tspan x="822" y="1560">of 16 (0.7%)</tspan></text>
</g>
</svg>
</body></html>
